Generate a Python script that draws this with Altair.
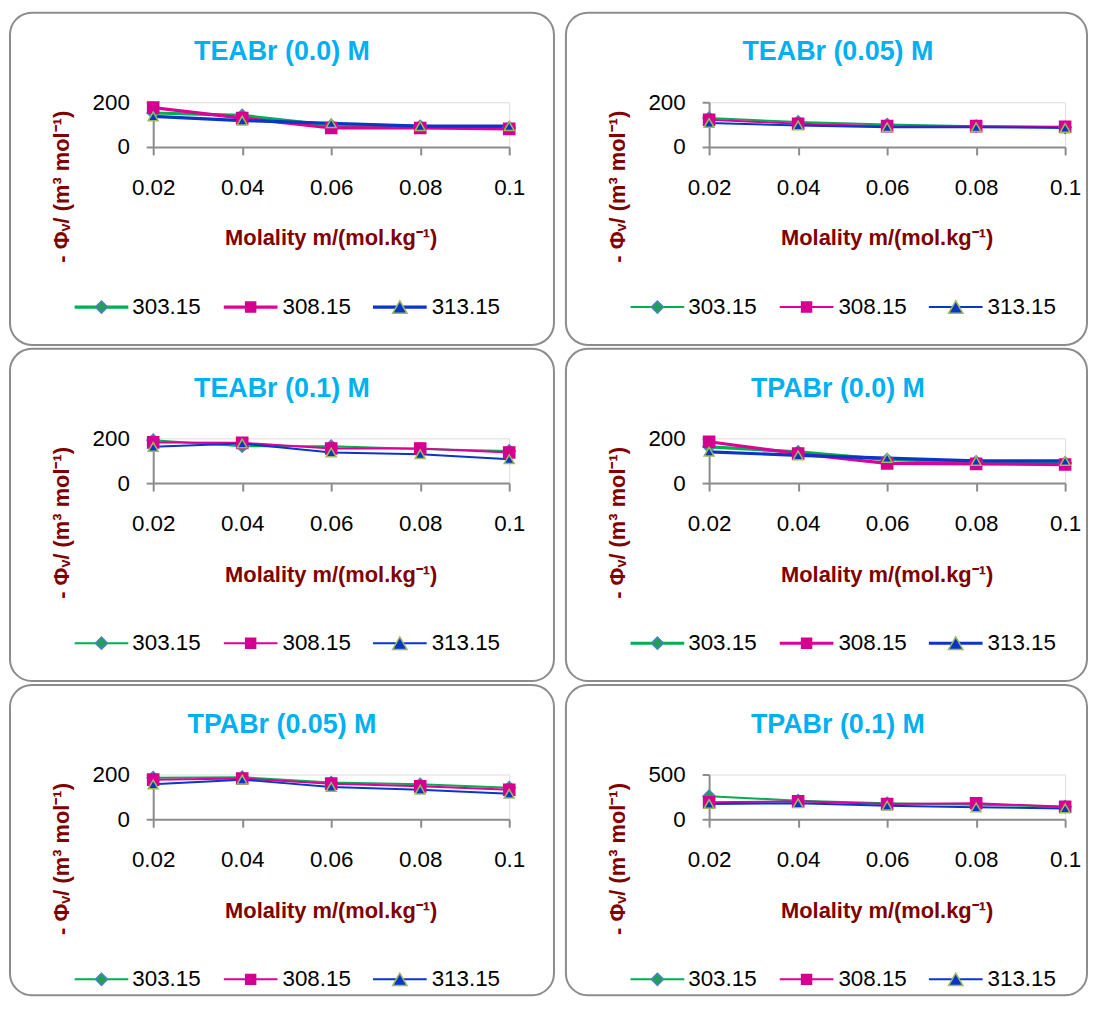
import altair as alt
import pandas as pd

# ---------------- data ----------------
molality = [0.02, 0.04, 0.06, 0.08, 0.1]
temperatures = ["303.15", "308.15", "313.15"]

panel_titles = ["TEABr (0.0) M", "TEABr (0.05) M", "TEABr (0.1) M",
                "TPABr (0.0) M", "TPABr (0.05) M", "TPABr (0.1) M"]
y_max = [200, 200, 200, 200, 200, 500]

teabr_00_303 = [152, 141, 97, 92, 86]
teabr_00_308 = [176, 129, 85, 85, 81]
teabr_00_313 = [137, 118, 106, 93, 93]

teabr_005_303 = [129, 112, 100, 93, 88]
teabr_005_308 = [122, 104, 93, 93, 90]
teabr_005_313 = [107, 96, 88, 88, 85]

teabr_01_303 = [192, 165, 165, 152, 144]
teabr_01_308 = [182, 180, 155, 155, 137]
teabr_01_313 = [162, 177, 137, 129, 107]

tpabr_00_303 = [162, 140, 105, 95, 90]
tpabr_00_308 = [185, 132, 88, 86, 83]
tpabr_00_313 = [140, 124, 112, 99, 99]

tpabr_005_303 = [186, 188, 164, 156, 141]
tpabr_005_308 = [177, 182, 159, 147, 132]
tpabr_005_313 = [156, 177, 144, 132, 114]

tpabr_01_303 = [258, 208, 178, 163, 140]
tpabr_01_308 = [189, 200, 170, 178, 140]
tpabr_01_313 = [170, 178, 152, 133, 121]

panel_series = [
    [teabr_00_303, teabr_00_308, teabr_00_313],
    [teabr_005_303, teabr_005_308, teabr_005_313],
    [teabr_01_303, teabr_01_308, teabr_01_313],
    [tpabr_00_303, tpabr_00_308, tpabr_00_313],
    [tpabr_005_303, tpabr_005_308, tpabr_005_313],
    [tpabr_01_303, tpabr_01_308, tpabr_01_313],
]

# ---------------- styles ----------------
FONT = "Liberation Sans, Arial, sans-serif"
line_colors = ["#00B050", "#DC0096", "#0A36C8"]
marker_fill = ["#1E9F5A", "#D4008F", "#0A36C8"]
marker_stroke = ["#4F81BD", "#D4008F", "#9BBB59"]
marker_shapes = ["diamond", "square", "triangle-up"]
marker_sizes = [150, 100, 210]
line_widths = [3.2, 2, 2, 3.2, 2, 2]
TITLE_COLOR = "#00B0F0"
AXIS_TITLE_COLOR = "#800000"
GRAY = "#8C8C8C"

PW, PH = 358, 45
Y_TITLE = "- \u03a6\u1d65/ (m\u00b3 mol\u207b\u00b9)"
X_TITLE = "Molality m/(mol.kg\u207b\u00b9)"

# legend entry layout (pixels relative to the plot area)
LEG_Y = 206
LEG_LINE = [(-79, -25), (71, 125), (221, 275)]
LEG_TEXT_X = [-21, 130, 280]

# frame (pixels relative to the plot area) per column / row
FRAME_X2 = [403, 380]
FRAME_Y2 = [244, 244, 222]


def make_panel(i):
    row, col = divmod(i, 2)
    rows = []
    for t, vals in zip(temperatures, panel_series[i]):
        for m, v in zip(molality, vals):
            rows.append({"molality": m, "value": v, "temp": t})
    df = pd.DataFrame(rows)
    ymax = y_max[i]
    lw = line_widths[i]

    x = alt.X("molality:Q",
              scale=alt.Scale(domain=[0.02, 0.1], nice=False, zero=False),
              axis=alt.Axis(values=molality, title=None, grid=False,
                            labelExpr="datum.value == 0.1 ? '0.1' : format(datum.value, '.2f')",
                            labelFont=FONT, labelFontSize=22.5, labelColor="black",
                            labelPadding=22, tickSize=8, tickColor=GRAY, tickWidth=2,
                            domainColor=GRAY, domainWidth=2, labelFlush=False))
    y = alt.Y("value:Q",
              scale=alt.Scale(domain=[0, ymax], nice=False),
              axis=alt.Axis(values=[0, ymax], title=None, grid=False, format="d",
                            labelFont=FONT, labelFontSize=22.5, labelColor="black",
                            labelPadding=17, tickSize=7, tickColor=GRAY, tickWidth=2,
                            domainColor=GRAY, domainWidth=2, labelFlush=False))

    base = alt.Chart(df)
    lines = base.mark_line(strokeWidth=lw).encode(
        x=x, y=y,
        color=alt.Color("temp:N", scale=alt.Scale(domain=temperatures, range=line_colors), legend=None),
    )
    points = base.mark_point(filled=True, strokeWidth=1.5, opacity=1).encode(
        x=x, y=y,
        shape=alt.Shape("temp:N", scale=alt.Scale(domain=temperatures, range=marker_shapes), legend=None),
        fill=alt.Fill("temp:N", scale=alt.Scale(domain=temperatures, range=marker_fill), legend=None),
        stroke=alt.Stroke("temp:N", scale=alt.Scale(domain=temperatures, range=marker_stroke), legend=None),
        size=alt.Size("temp:N", scale=alt.Scale(domain=temperatures, range=marker_sizes), legend=None),
    )

    one = alt.Chart(pd.DataFrame({"k": [0]}))
    frame = one.mark_rect(filled=False, stroke=GRAY, strokeWidth=2, cornerRadius=22).encode(
        x=alt.value(-144), x2=alt.value(FRAME_X2[col]),
        y=alt.value(-90), y2=alt.value(FRAME_Y2[row]))
    title = one.mark_text(font=FONT, fontSize=27, fontWeight="bold", color=TITLE_COLOR,
                          align="center", baseline="middle").encode(
        x=alt.value(129.5), y=alt.value(-50), text=alt.value(panel_titles[i]))
    ytitle = one.mark_text(font=FONT, fontSize=22, fontWeight="bold", color=AXIS_TITLE_COLOR,
                           align="center", baseline="middle", angle=270).encode(
        x=alt.value(-92), y=alt.value(85), text=alt.value(Y_TITLE))
    xtitle = one.mark_text(font=FONT, fontSize=22, fontWeight="bold", color=AXIS_TITLE_COLOR,
                           align="center", baseline="middle").encode(
        x=alt.value(179), y=alt.value(137), text=alt.value(X_TITLE))

    legend_layers = []
    for k, t in enumerate(temperatures):
        x1, x2 = LEG_LINE[k]
        legend_layers.append(one.mark_rule(strokeWidth=lw, color=line_colors[k]).encode(
            x=alt.value(x1), x2=alt.value(x2), y=alt.value(LEG_Y)))
        legend_layers.append(one.mark_point(filled=True, shape=marker_shapes[k], size=marker_sizes[k],
                                            fill=marker_fill[k], stroke=marker_stroke[k],
                                            strokeWidth=1.5, opacity=1).encode(
            x=alt.value((x1 + x2) / 2), y=alt.value(LEG_Y)))
        legend_layers.append(one.mark_text(font=FONT, fontSize=22.5, color="black",
                                           align="left", baseline="middle").encode(
            x=alt.value(LEG_TEXT_X[k]), y=alt.value(LEG_Y), text=alt.value(t)))

    return alt.layer(frame, lines, points, title, ytitle, xtitle, *legend_layers).properties(
        width=PW, height=PH)


panels = [make_panel(i) for i in range(6)]
chart = alt.vconcat(
    alt.hconcat(panels[0], panels[1], spacing=8),
    alt.hconcat(panels[2], panels[3], spacing=8),
    alt.hconcat(panels[4], panels[5], spacing=8),
    spacing=0,
).properties(
    padding={"left": 0, "top": 0, "right": 0, "bottom": 0}
).configure_view(strokeWidth=0).configure(background="white")

chart.save("out.html", embed_options={"renderer": "svg", "actions": False})
